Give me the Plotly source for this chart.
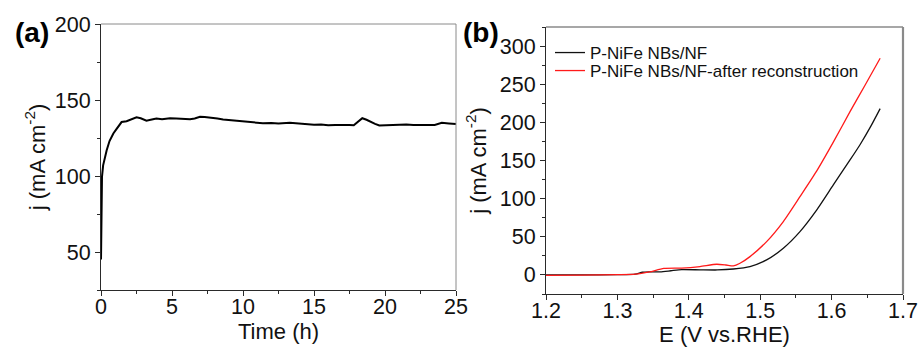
import plotly.graph_objects as go

# Panel (a): chronoamperometry
time_h = [0, 0.01, 0.03, 0.07, 0.15, 0.25, 0.4, 0.6, 0.87, 1.1, 1.45, 1.8, 2.04, 2.3, 2.5, 2.8, 3.2, 3.5, 3.9, 4.3, 4.86, 5.3, 5.8, 6.27, 6.6, 6.97, 7.3, 7.67, 8.2, 8.6, 9.08, 9.6, 10.0, 10.5, 11.0, 11.4, 12.0, 12.5, 13.3, 14.0, 14.5, 15.0, 15.5, 16.0, 16.5, 17.0, 17.5, 17.8, 18.1, 18.4, 18.7, 19.0, 19.3, 19.6, 20.0, 20.5, 21.0, 21.5, 22.0, 22.5, 23.0, 23.5, 24.0, 24.5, 25.0]
current_a = [45, 70, 88, 99.5, 107, 112, 117, 123, 128, 131, 135.5, 136, 136.8, 137.8, 138.6, 138, 136.4, 137, 137.8, 137.3, 138, 137.8, 137.6, 137.4, 137.8, 139, 138.8, 138.5, 137.8, 137.2, 136.8, 136.3, 136.2, 135.3, 134.9, 134.7, 134.9, 134.6, 135, 134.3, 134.1, 133.7, 133.9, 133.4, 133.6, 133.3, 133.5, 133.4, 135.5, 138, 137, 135.5, 134.3, 133.2, 133.4, 133.6, 133.9, 133.8, 133.6, 133.4, 133.5, 133.6, 135, 134.6, 134.2]

# Panel (b): polarization curves
e_black = [1.2, 1.25, 1.30, 1.325, 1.335, 1.345, 1.36, 1.375, 1.39, 1.4157, 1.44, 1.4624, 1.4857, 1.509, 1.5324, 1.5557, 1.579, 1.6024, 1.6164, 1.6258, 1.64, 1.655, 1.668]
j_black = [0, 0, 0.3, 1, 3.5, 4, 4, 5.5, 7, 6.7, 6.5, 7.8, 11, 19.7, 35, 56.8, 85, 118, 137.6, 150.7, 171, 195, 218]
e_red = [1.2, 1.25, 1.30, 1.325, 1.345, 1.365, 1.39, 1.4157, 1.439, 1.452, 1.4624, 1.4717, 1.4857, 1.509, 1.5324, 1.5557, 1.579, 1.6024, 1.6258, 1.647, 1.668]
j_red = [-0.5, -0.3, 0.3, 1, 4, 8.5, 9, 11, 14, 13, 11.8, 15.3, 24, 43.7, 70, 102.6, 136, 174, 214, 249, 284]

label_black = "P-NiFe NBs/NF"
label_red = "P-NiFe NBs/NF-after reconstruction"

FONT = "Liberation Sans, Arial, sans-serif"
AX = "#2a2a2a"
FRAME = "#8a8a8a"

# figure geometry (pixels)
W, H = 924, 347
ML, MR, MT, MB = 101, 21, 24, 53
PW, PH = W - ML - MR, H - MT - MB


def px(x):
    return (x - ML) / PW


def py(y):
    return (H - MB - y) / PH


fig = go.Figure()
fig.add_trace(go.Scatter(x=time_h, y=current_a, mode="lines", line=dict(color="black", width=2),
                         xaxis="x", yaxis="y", showlegend=False))
fig.add_trace(go.Scatter(x=e_black, y=j_black, mode="lines",
                         line=dict(color="#111111", width=1.3, shape="spline", smoothing=0.6),
                         name=label_black, xaxis="x2", yaxis="y2", legend="legend"))
fig.add_trace(go.Scatter(x=e_red, y=j_red, mode="lines",
                         line=dict(color="#ff1a1a", width=1.3, shape="spline", smoothing=0.6),
                         name=label_red, xaxis="x2", yaxis="y2", legend="legend2"))

common = dict(showgrid=False, zeroline=False, showline=True, linecolor=AX, linewidth=1.2,
              mirror=False, ticks="outside", ticklen=5, tickcolor=AX, automargin=False,
              tickfont=dict(family=FONT, size=21.5, color="#111"))
tfont = dict(family=FONT, size=22, color="#111")

fig.update_layout(
    width=W, height=H,
    margin=dict(l=ML, r=MR, t=MT, b=MB, autoexpand=False),
    paper_bgcolor="white", plot_bgcolor="white",
    font=dict(family=FONT, color="#111"),
    xaxis=dict(domain=[0, px(456)], range=[0, 25], dtick=5, ticklabelstandoff=-8,
               minor=dict(dtick=2.5, ticks="outside", ticklen=3, tickcolor=AX),
               title=dict(text="Time (h)", font=tfont, standoff=5),
               anchor="y", **common),
    yaxis=dict(domain=[py(290), 1], range=[25, 200], tickvals=[50, 100, 150, 200],
               minor=dict(dtick=25, ticks="outside", ticklen=3, tickcolor=AX),
               title=dict(text="j (mA cm<sup>-2</sup>)", font=tfont, standoff=3),
               anchor="x", **common),
    xaxis2=dict(domain=[px(546), 1], range=[1.2, 1.7], dtick=0.1, tickformat=".1f", ticklabelstandoff=-8,
                minor=dict(dtick=0.05, ticks="outside", ticklen=3, tickcolor=AX),
                title=dict(text="E (V vs.RHE)", font=tfont, standoff=18),
                anchor="y2", **common),
    yaxis2=dict(domain=[0, py(27)], range=[-25, 325], dtick=50,
                minor=dict(dtick=25, ticks="outside", ticklen=3, tickcolor=AX),
                title=dict(text="j (mA cm<sup>-2</sup>)", font=tfont, standoff=7),
                anchor="x2", **common),
    legend=dict(x=px(550), y=py(35), xanchor="left", yanchor="top",
                bgcolor="rgba(0,0,0,0)", font=dict(family=FONT, size=17, color="#111"), itemwidth=30),
    legend2=dict(x=px(550), y=py(53), xanchor="left", yanchor="top",
                 bgcolor="rgba(0,0,0,0)", font=dict(family=FONT, size=17, color="#111"), itemwidth=30),
    shapes=[
        # top/right frame lines (lighter gray, as in the reference)
        dict(type="line", xref="x domain", yref="y domain", x0=0, x1=1, y0=1, y1=1,
             line=dict(color=FRAME, width=1)),
        dict(type="line", xref="x domain", yref="y domain", x0=1, x1=1, y0=0, y1=1,
             line=dict(color=FRAME, width=1)),
        dict(type="line", xref="x2 domain", yref="y2 domain", x0=0, x1=1, y0=1, y1=1,
             line=dict(color=FRAME, width=1.5)),
        dict(type="line", xref="x2 domain", yref="y2 domain", x0=1, x1=1, y0=0, y1=1,
             line=dict(color=FRAME, width=2.2)),
    ],
    annotations=[
        dict(text="<b>(a)</b>", x=px(32), y=py(32), xref="paper", yref="paper",
             xanchor="center", yanchor="middle", showarrow=False, font=dict(family=FONT, size=28, color="black")),
        dict(text="<b>(b)</b>", x=px(481), y=py(32), xref="paper", yref="paper",
             xanchor="center", yanchor="middle", showarrow=False, font=dict(family=FONT, size=28, color="black")),
    ],
)

fig.write_html("out.html", config={"displayModeBar": False},
               post_script="document.body.style.margin='0';document.body.style.padding='0';")
